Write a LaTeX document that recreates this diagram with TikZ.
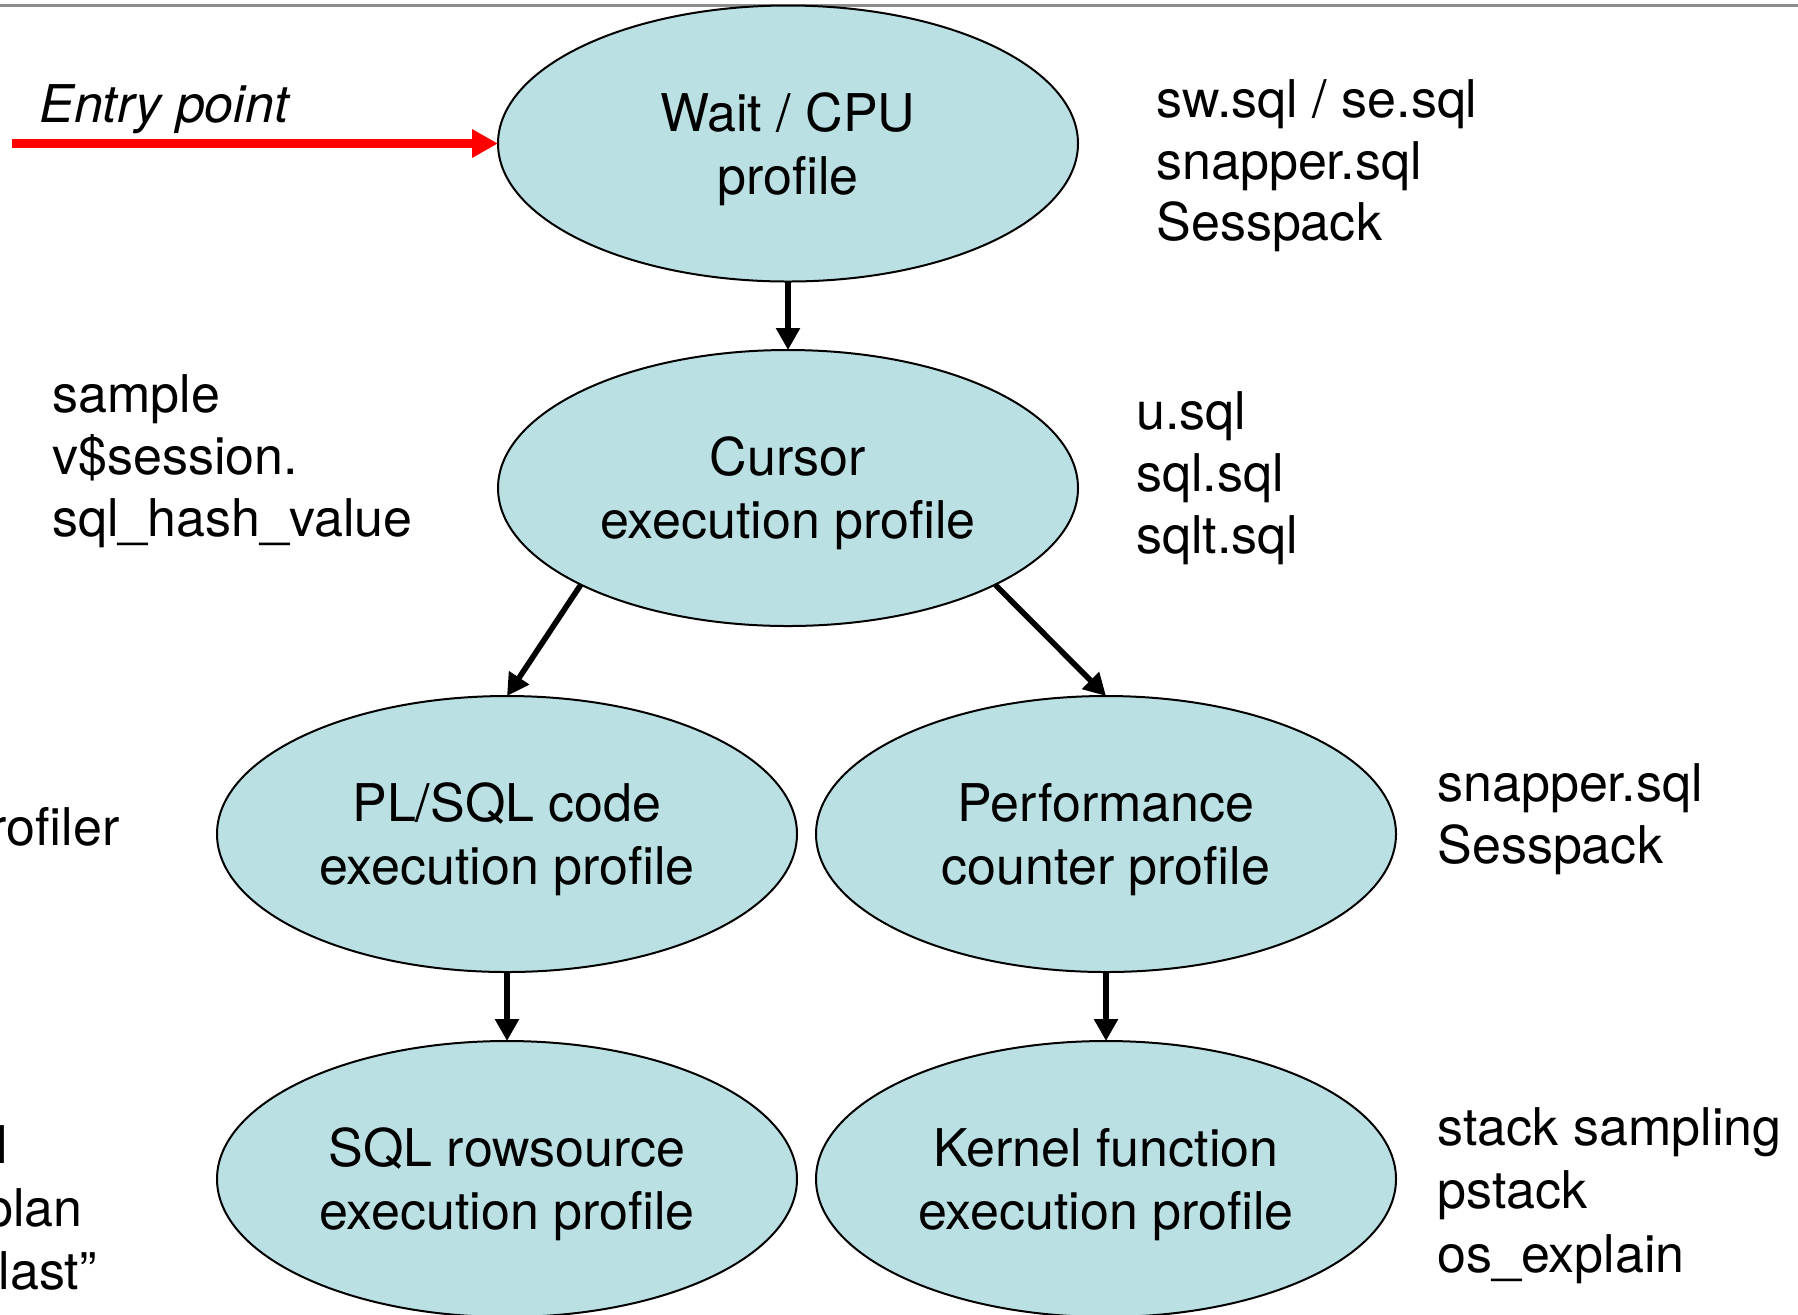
\documentclass[tikz,border=0pt]{standalone}
\usepackage{fontspec}
\setmainfont{TeX Gyre Heros}
\usetikzlibrary{shapes.geometric,arrows.meta}
\definecolor{ellfill}{HTML}{BBE0E3}
\definecolor{rulegray}{HTML}{8C8C8C}
\newcommand{\tstrut}{\rule{0pt}{25pt}}
\begin{document}
\begin{tikzpicture}[x=0.5pt,y=-0.5pt,
  prof/.style={ellipse,draw=black,line width=1pt,fill=ellfill,minimum width=290pt,minimum height=138pt,inner sep=0pt,outer sep=0pt,align=center,font=\fontsize{26}{31.5}\selectfont},
  lbl/.style={anchor=base west,inner sep=0pt,font=\fontsize{26}{31.5}\selectfont},
  lble/.style={anchor=base east,inner sep=0pt,font=\fontsize{26}{31.5}\selectfont},
  flow/.style={line width=2.8pt,-{Triangle[length=11pt,width=11.5pt]}},
  entry/.style={draw=red,line width=4.5pt,-{Triangle[length=13pt,width=13.5pt]},red},
]
\useasboundingbox (0,0) rectangle (1798,1314);
\clip (0,0) rectangle (1798,1314);
\draw[rulegray,line width=1.5pt] (0,5) -- (1798,5);

\node[prof] (e1) at (788,143.5) {\tstrut Wait / CPU\\profile};
\node[prof] (e2) at (788,488) {\tstrut Cursor\\execution profile};
\node[prof] (e3) at (507,834) {\tstrut PL/SQL code\\execution profile};
\node[prof] (e4) at (1106,834) {\tstrut Performance\\counter profile};
\node[prof] (e5) at (507,1179) {\tstrut SQL rowsource\\execution profile};
\node[prof] (e6) at (1106,1179) {\tstrut Kernel function\\execution profile};

\coordinate (start) at (12,143.5);
\draw[entry] (start) -- (e1.west);
\node[lbl,font=\fontsize{26}{31.5}\selectfont\itshape] (entrytxt) at (39,122) {Entry point};

\draw[flow] (e1.south) -- (e2.north);
\draw[flow] (e2.205.7) -- (e3.north);
\draw[flow] (e2.-25.7) -- (e4.north);
\draw[flow] (e3.south) -- (e5.north);
\draw[flow] (e4.south) -- (e6.north);

\node[lbl] (r1a) at (1156,117) {sw.sql / se.sql};
\node[lbl] (r1b) at (1156,179) {snapper.sql};
\node[lbl] (r1c) at (1156,240) {Sesspack};

\node[lbl] (l2a) at (52,412) {sample};
\node[lbl] (l2b) at (52,474) {v\$session.};
\node[lbl] (l2c) at (52,536) {sql\_hash\_value};

\node[lbl] (r2a) at (1136,429) {u.sql};
\node[lbl] (r2b) at (1136,491) {sql.sql};
\node[lbl] (r2c) at (1136,553) {sqlt.sql};

\node[lble] (l3) at (120,845) {profiler};

\node[lbl] (r4a) at (1437,801) {snapper.sql};
\node[lbl] (r4b) at (1437,863) {Sesspack};

\node[lble] (l5a) at (8,1163) {sql};
\node[lble] (l5b) at (83,1226) {explain plan};
\node[lble] (l5c) at (97,1289) {“ALLSTATS last”};

\node[lbl] (r6a) at (1437,1145) {stack sampling};
\node[lbl] (r6b) at (1437,1208) {pstack};
\node[lbl] (r6c) at (1437,1272) {os\_explain};
\end{tikzpicture}
\end{document}
